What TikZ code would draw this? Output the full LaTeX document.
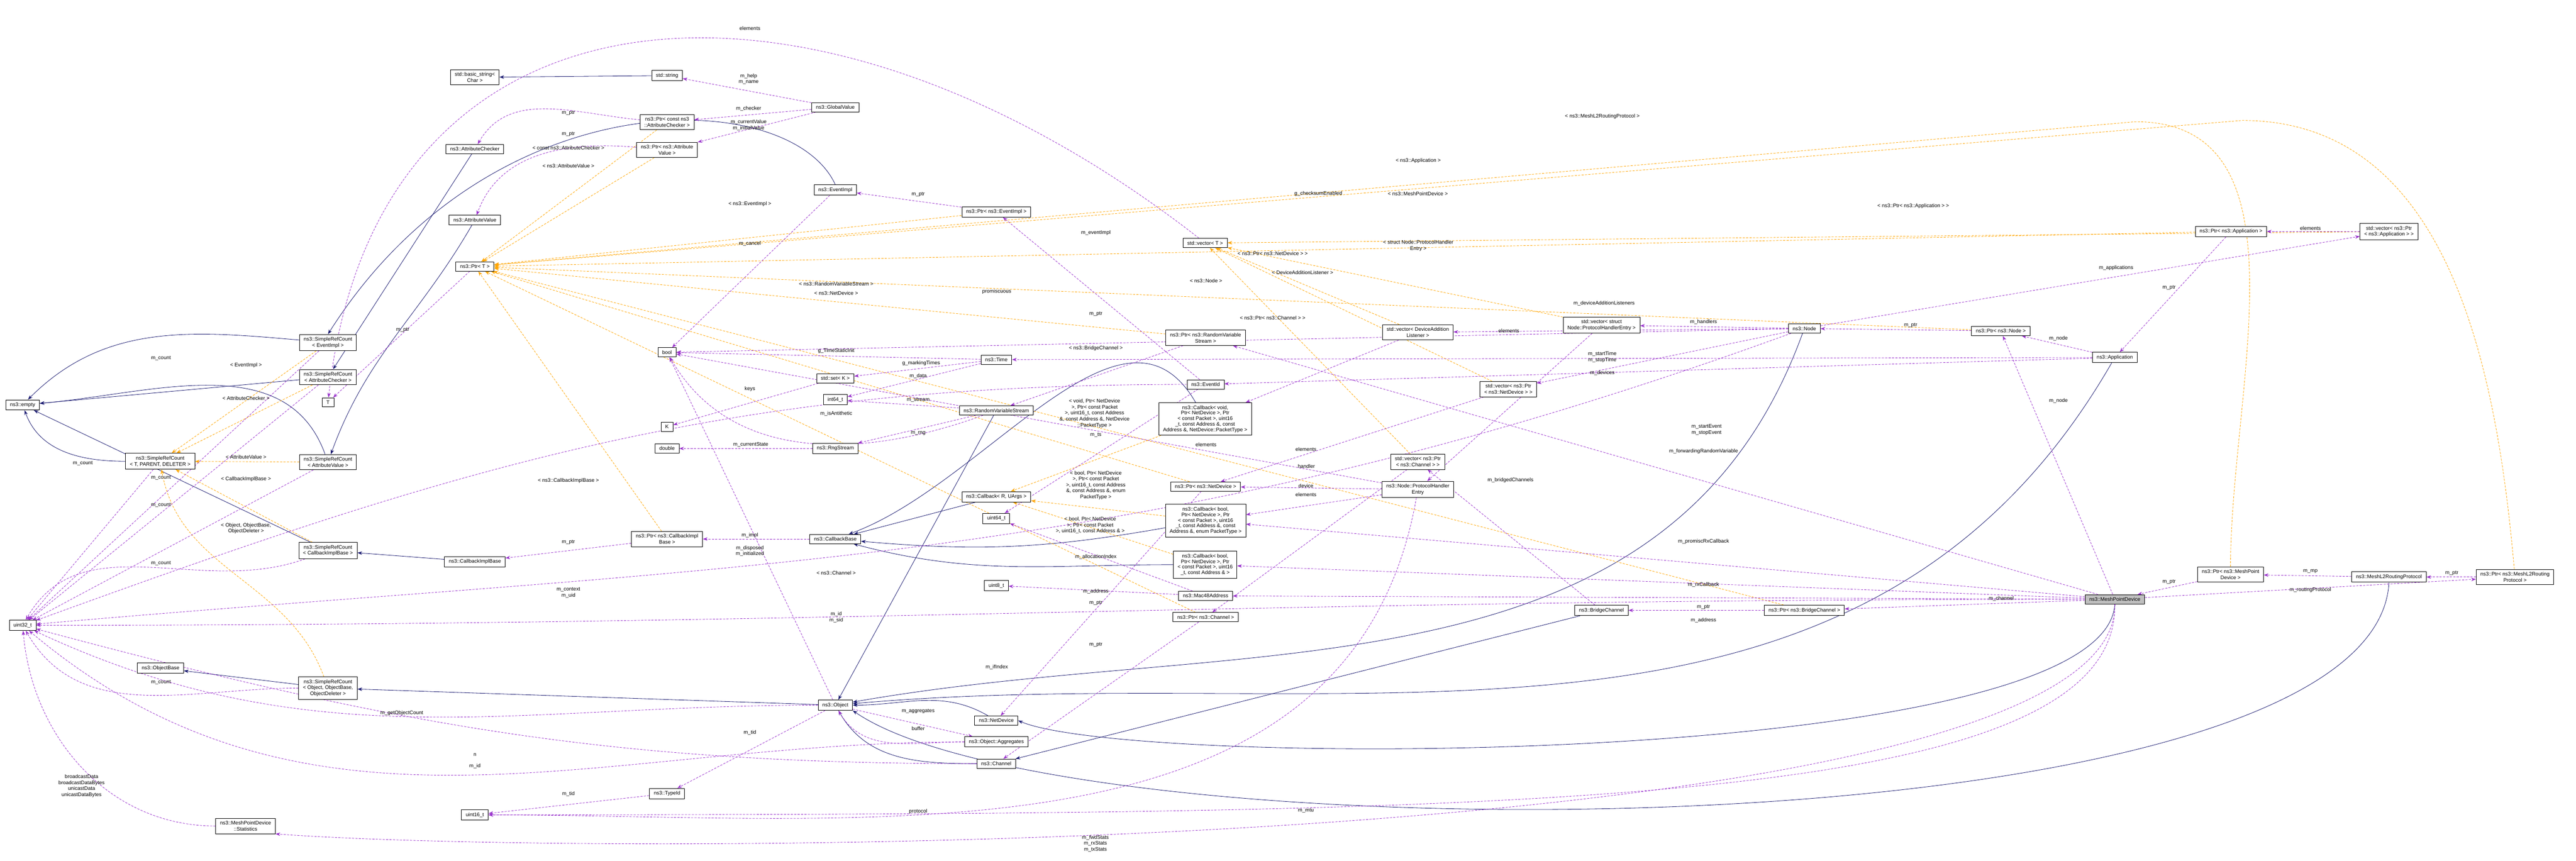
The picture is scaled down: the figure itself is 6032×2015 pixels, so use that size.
\documentclass[tikz,border=0pt]{standalone}
\usepackage{fontspec}
\setmainfont{Liberation Sans}
\usetikzlibrary{arrows.meta, positioning, backgrounds}
\definecolor{inhblue}{RGB}{25,25,112}
\definecolor{usepurple}{RGB}{153,50,204}
\definecolor{tplorange}{RGB}{255,165,0}
\definecolor{selgray}{RGB}{191,191,191}
\tikzstyle{box} = [rectangle, draw = black, fill = white, line width = 0.2pt,
  font = \fontsize{2.4}{2.8}\selectfont, align = center,
  inner xsep = 2pt, inner ysep = 1.3pt]
\tikzstyle{sel} = [box, fill = selgray]
\tikzstyle{lbl} = [font = \fontsize{2.4}{2.8}\selectfont, align = center, inner sep = 0.2pt]
\tikzstyle{inh} = [draw = inhblue, line width = 0.2pt,
  -{Stealth[length = 2.2pt, width = 1.6pt]}]
\tikzstyle{use} = [draw = usepurple, line width = 0.2pt, dash pattern = on 1pt off 0.6pt,
  -{Stealth[length = 2.2pt, width = 1.6pt]}]
\tikzstyle{tpl} = [draw = tplorange, line width = 0.2pt, dash pattern = on 1pt off 0.6pt,
  -{Stealth[length = 2.2pt, width = 1.6pt]}]

\begin{document}
\begin{tikzpicture}[x = 0.2pt, y = -0.2pt]
  \useasboundingbox (0, 0) rectangle (6032, 2015);
  % column 1
  \node [box] (empty) at (53, 948) {ns3::empty};
  \node [box] (uint32) at (53, 1464) {uint32\_t};
  % column 2
  \node [box] (srcTPD) at (375, 1080) {ns3::SimpleRefCount\\< T, PARENT, DELETER >};
  \node [box] (objBase) at (376, 1564) {ns3::ObjectBase};
  \node [box] (stats) at (575, 1934) {ns3::MeshPointDevice\\::Statistics};
  % column 3
  \node [box] (srcEvent) at (768, 802) {ns3::SimpleRefCount\\< EventImpl >};
  \node [box] (srcChecker) at (768, 883) {ns3::SimpleRefCount\\< AttributeChecker >};
  \node [box] (tT) at (768, 942) {T};
  \node [box] (srcValue) at (768, 1082) {ns3::SimpleRefCount\\< AttributeValue >};
  \node [box] (srcCbImpl) at (768, 1289) {ns3::SimpleRefCount\\< CallbackImplBase >};
  \node [box] (srcObject) at (768, 1611) {ns3::SimpleRefCount\\< Object, ObjectBase,\\ObjectDeleter >};
  % column 4
  \node [box] (basicStr) at (1112, 181) {std::basic\_string<\\Char >};
  \node [box] (attrChecker) at (1112, 349) {ns3::AttributeChecker};
  \node [box] (attrValue) at (1112, 515) {ns3::AttributeValue};
  \node [box] (ptrT) at (1112, 624) {ns3::Ptr< T >};
  \node [box] (cbImpl) at (1112, 1315) {ns3::CallbackImplBase};
  \node [box] (uint16) at (1112, 1908) {uint16\_t};
  % column 5
  \node [box] (stdStr) at (1562, 177) {std::string};
  \node [box] (ptrChecker) at (1562, 286) {ns3::Ptr< const ns3\\::AttributeChecker >};
  \node [box] (ptrValue) at (1562, 351) {ns3::Ptr< ns3::Attribute\\Value >};
  \node [box] (bool) at (1562, 825) {bool};
  \node [box] (kK) at (1562, 999) {K};
  \node [box] (double) at (1562, 1050) {double};
  \node [box] (ptrCbImpl) at (1562, 1262) {ns3::Ptr< ns3::CallbackImpl\\Base >};
  \node [box] (typeId) at (1562, 1858) {ns3::TypeId};
  % column 6
  \node [box] (globalValue) at (1956, 251) {ns3::GlobalValue};
  \node [box] (eventImpl) at (1956, 445) {ns3::EventImpl};
  \node [box] (stdSet) at (1956, 886) {std::set< K >};
  \node [box] (int64) at (1956, 936) {int64\_t};
  \node [box] (rngStream) at (1956, 1050) {ns3::RngStream};
  \node [box] (cbBase) at (1956, 1262) {ns3::CallbackBase};
  \node [box] (object) at (1956, 1651) {ns3::Object};
  % column 7
  \node [box] (ptrEvent) at (2333, 496) {ns3::Ptr< ns3::EventImpl >};
  \node [box] (time) at (2333, 842) {ns3::Time};
  \node [box] (rvs) at (2333, 961) {ns3::RandomVariableStream};
  \node [box] (cbR) at (2333, 1163) {ns3::Callback< R, UArgs >};
  \node [box] (uint64) at (2333, 1214) {uint64\_t};
  \node [box] (uint8) at (2333, 1371) {uint8\_t};
  \node [box] (netDevice) at (2333, 1687) {ns3::NetDevice};
  \node [box] (aggregates) at (2333, 1737) {ns3::Object::Aggregates};
  \node [box] (channel) at (2333, 1788) {ns3::Channel};
  % column 8
  \node [box] (vecT) at (2822, 569) {std::vector< T >};
  \node [box] (ptrRvs) at (2823, 791) {ns3::Ptr< ns3::RandomVariable\\Stream >};
  \node [box] (eventId) at (2823, 900) {ns3::EventId};
  \node [box, font = \fontsize{2.4}{2.6}\selectfont] (cbVoid) at (2822, 981) {ns3::Callback< void,\\Ptr< NetDevice >, Ptr\\< const Packet >, uint16\\\_t, const Address \&, const\\Address \&, NetDevice::PacketType >};
  \node [box] (ptrNetDev) at (2823, 1139) {ns3::Ptr< ns3::NetDevice >};
  \node [box, font = \fontsize{2.4}{2.6}\selectfont] (cbPromisc) at (2823, 1219) {ns3::Callback< bool,\\Ptr< NetDevice >, Ptr\\< const Packet >, uint16\\\_t, const Address \&, const\\Address \&, enum PacketType >};
  \node [box, font = \fontsize{2.4}{2.6}\selectfont] (cbRx) at (2822, 1322) {ns3::Callback< bool,\\Ptr< NetDevice >, Ptr\\< const Packet >, uint16\\\_t, const Address \& >};
  \node [box] (mac48) at (2823, 1395) {ns3::Mac48Address};
  \node [box] (ptrChannel) at (2823, 1445) {ns3::Ptr< ns3::Channel >};
  % column 9
  \node [box] (vecListener) at (3320, 778) {std::vector< DeviceAddition\\Listener >};
  \node [box] (vecChannel) at (3320, 1081) {std::vector< ns3::Ptr\\< ns3::Channel > >};
  \node [box] (handlerEntry) at (3320, 1146) {ns3::Node::ProtocolHandler\\Entry};
  \node [box] (vecNetDev) at (3532, 911) {std::vector< ns3::Ptr\\< ns3::NetDevice > >};
  % column 10
  \node [box] (vecHandler) at (3750, 761) {std::vector< struct\\Node::ProtocolHandlerEntry >};
  \node [box] (bridgeCh) at (3750, 1429) {ns3::BridgeChannel};
  \node [box] (node) at (4225, 769) {ns3::Node};
  \node [box] (ptrBridge) at (4225, 1429) {ns3::Ptr< ns3::BridgeChannel >};
  % column 11
  \node [box] (ptrNode) at (4685, 775) {ns3::Ptr< ns3::Node >};
  \node [box] (application) at (4952, 837) {ns3::Application};
  \node [sel] (meshDev) at (4952, 1403) {ns3::MeshPointDevice};
  \node [box] (ptrApp) at (5224, 542) {ns3::Ptr< ns3::Application >};
  \node [box] (ptrMeshDev) at (5223, 1345) {ns3::Ptr< ns3::MeshPoint\\Device >};
  \node [box] (vecApp) at (5594, 542) {std::vector< ns3::Ptr\\< ns3::Application > >};
  \node [box] (routing) at (5594, 1351) {ns3::MeshL2RoutingProtocol};
  \node [box] (ptrRouting) at (5889, 1351) {ns3::Ptr< ns3::MeshL2Routing\\Protocol >};

  \begin{pgfonlayer}{background}
    % inheritance
    \draw [inh] (srcEvent) to [out = 175, in = 45] (empty);
    \draw [inh] (srcChecker) -- (empty);
    \draw [inh] (srcTPD) to [out = 180, in = -70] (empty);
    \draw [inh] (srcValue) to [out = 110, in = 5] (empty);
    \draw [inh] (srcCbImpl) -- (empty);
    \draw [inh] (srcObject) -- (objBase);
    \draw [inh] (eventImpl.north) .. controls (1850, 200) and (1150, 180) .. (srcEvent.north);
    \draw [inh] (attrChecker) -- (srcChecker);
    \draw [inh] (attrValue) to [out = -120, in = 70] (srcValue);
    \draw [inh] (cbImpl) -- (srcCbImpl);
    \draw [inh] (object) -- (srcObject);
    \draw [inh] (stdStr) -- (basicStr);
    \draw [inh] (cbR) -- (cbBase);
    \draw [inh] (cbVoid) to [out = 120, in = 20] (cbBase);
    \draw [inh] (cbPromisc) to [out = 190, in = -5] (cbBase);
    \draw [inh] (cbRx) to [out = 180, in = -15] (cbBase);
    \draw [inh] (rvs) -- (object);
    \draw [inh] (netDevice) to [out = 150, in = 0] (object);
    \draw [inh] (channel) to [out = 180, in = -60] (object);
    \draw [inh] (node) to [out = -110, in = 10] (object);
    \draw [inh] (application) to [out = -120, in = 5] (object);
    \draw [inh] (bridgeCh) -- (channel);
    \draw [inh] (meshDev.south) .. controls (4930, 1800) and (2650, 1800) .. (netDevice.east);
    \draw [inh] (routing.south) .. controls (5560, 2010) and (2500, 2010) .. (object.south east);
    % templates
    \draw [tpl] (srcEvent) -- (srcTPD);
    \draw [tpl] (srcChecker) -- (srcTPD);
    \draw [tpl] (srcValue) -- (srcTPD);
    \draw [tpl] (srcCbImpl) -- (srcTPD);
    \draw [tpl] (srcObject) to [out = 110, in = -80] (srcTPD);
    \draw [tpl] (ptrChecker) -- (ptrT);
    \draw [tpl] (ptrValue) -- (ptrT);
    \draw [tpl] (ptrEvent) -- (ptrT);
    \draw [tpl] (ptrRvs) -- (ptrT);
    \draw [tpl] (ptrNetDev) -- (ptrT);
    \draw [tpl] (ptrCbImpl) -- (ptrT);
    \draw [tpl] (ptrChannel) -- (ptrT);
    \draw [tpl] (ptrBridge) -- (ptrT);
    \draw [tpl] (ptrNode) -- (ptrT);
    \draw [tpl] (ptrApp) -- (ptrT);
    \draw [tpl] (ptrMeshDev) to [out = 90, in = 0] (5000, 285) -- (ptrT);
    \draw [tpl] (ptrRouting) to [out = 95, in = 0] (5250, 282) -- (ptrT);
    \draw [tpl] (vecApp) -- (vecT);
    \draw [tpl] (vecNetDev) -- (vecT);
    \draw [tpl] (vecChannel) -- (vecT);
    \draw [tpl] (vecListener) -- (vecT);
    \draw [tpl] (vecHandler) -- (vecT);
    \draw [tpl] (cbVoid) -- (cbR);
    \draw [tpl] (cbPromisc) -- (cbR);
    \draw [tpl] (cbRx) -- (cbR);
    % members
    \draw [use] (vecT) .. controls (1900, -150) and (880, -80) .. (tT);
    \draw [use] (globalValue) -- (stdStr);
    \draw [use] (globalValue) -- (ptrChecker);
    \draw [use] (globalValue) -- (ptrValue);
    \draw [use] (ptrChecker) to [out = 175, in = 60] (attrChecker);
    \draw [use] (ptrValue) to [out = 175, in = 70] (attrValue);
    \draw [use] (ptrT) -- (tT);
    \draw [use] (srcEvent) -- (uint32);
    \draw [use] (srcChecker) -- (uint32);
    \draw [use] (srcTPD) -- (uint32);
    \draw [use] (srcValue) -- (uint32);
    \draw [use] (srcCbImpl) to [out = 200, in = 60] (uint32);
    \draw [use] (srcObject) to [out = 180, in = -60] (uint32);
    \draw [use] (eventImpl) -- (bool);
    \draw [use] (ptrEvent) -- (eventImpl);
    \draw [use] (eventId) -- (ptrEvent);
    \draw [use] (eventId) to [out = 180, in = 20] (uint32);
    \draw [use] (eventId) -- (uint64);
    \draw [use] (time) -- (bool);
    \draw [use] (time) -- (stdSet);
    \draw [use] (time) -- (int64);
    \draw [use] (stdSet) -- (kK);
    \draw [use] (rvs) -- (int64);
    \draw [use] (rvs) to [out = 200, in = -60] (bool);
    \draw [use] (rvs) -- (rngStream);
    \draw [use] (rngStream) -- (double);
    \draw [use] (ptrRvs) -- (rvs);
    \draw [use] (cbBase) -- (ptrCbImpl);
    \draw [use] (ptrCbImpl) -- (cbImpl);
    \draw [use] (object) -- (bool);
    \draw [use] (object) -- (typeId);
    \draw [use] (object) -- (aggregates);
    \draw [use] (aggregates) to [out = 180, in = -60] (object);
    \draw [use] (aggregates) to [out = 180, in = -40] (uint32);
    \draw [use] (object) to [out = 180, in = -25] (uint32);
    \draw [use] (typeId) -- (uint16);
    \draw [use] (mac48) -- (uint8);
    \draw [use] (mac48) -- (uint64);
    \draw [use] (ptrNetDev) -- (netDevice);
    \draw [use] (ptrChannel) -- (channel);
    \draw [use] (handlerEntry) -- (bool);
    \draw [use] (handlerEntry) -- (cbPromisc);
    \draw [use] (handlerEntry) -- (ptrNetDev);
    \draw [use] (handlerEntry) to [out = -100, in = 0] (uint16);
    \draw [use] (vecHandler) -- (handlerEntry);
    \draw [use] (vecNetDev) -- (ptrNetDev);
    \draw [use] (vecChannel) -- (ptrChannel);
    \draw [use] (vecListener) -- (cbVoid);
    \draw [use] (node) -- (vecListener);
    \draw [use] (node) -- (vecHandler);
    \draw [use] (node) -- (vecNetDev);
    \draw [use] (node) to [out = 200, in = 5] (uint32);
    \draw [use] (node) -- (bool);
    \draw [use] (node) -- (vecApp);
    \draw [use] (ptrNode) -- (node);
    \draw [use] (application) -- (ptrNode);
    \draw [use] (application) -- (time);
    \draw [use] (application) -- (eventId);
    \draw [use] (ptrApp) -- (application);
    \draw [use] (vecApp) -- (ptrApp);
    \draw [use] (bridgeCh) -- (vecChannel);
    \draw [use] (ptrBridge) -- (bridgeCh);
    \draw [use] (channel) to [out = 180, in = -15] (uint32);
    \draw [use] (meshDev) -- (ptrNode);
    \draw [use] (meshDev) -- (ptrBridge);
    \draw [use] (meshDev) -- (ptrRvs);
    \draw [use] (meshDev) -- (cbPromisc);
    \draw [use] (meshDev) -- (cbRx);
    \draw [use] (meshDev) -- (mac48);
    \draw [use] (meshDev) to [out = 180, in = 0] (uint32);
    \draw [use] (meshDev.south) .. controls (4960, 1905) and (3500, 1905) .. (uint16.east);
    \draw [use] (meshDev.south) .. controls (4965, 2008) and (1400, 2008) .. (stats.south east);
    \draw [use] (stats) to [out = 180, in = -85] (uint32);
    \draw [use] (meshDev) -- (ptrRouting);
    \draw [use] (ptrMeshDev) -- (meshDev);
    \draw [use] (routing) -- (ptrMeshDev);
    \draw [use] (ptrRouting) -- (routing);
  \end{pgfonlayer}

  % member labels
  \node [lbl] (l-elemT) at (1756, 66) {elements};
  \node [lbl] (l-help) at (1753, 185) {m\_help\\m\_name};
  \node [lbl] (l-checker) at (1753, 254) {m\_checker};
  \node [lbl] (l-value) at (1753, 293) {m\_currentValue\\m\_initialValue};
  \node [lbl] (l-ptrC) at (1331, 265) {m\_ptr};
  \node [lbl] (l-ptrV) at (1331, 314) {m\_ptr};
  \node [lbl] (l-ptrT) at (943, 773) {m\_ptr};
  \node [lbl] (l-cnt1) at (377, 839) {m\_count};
  \node [lbl] (l-cnt2) at (194, 1085) {m\_count};
  \node [lbl] (l-cnt3) at (377, 1119) {m\_count};
  \node [lbl] (l-cnt4) at (377, 1183) {m\_count};
  \node [lbl] (l-cnt5) at (377, 1319) {m\_count};
  \node [lbl] (l-cnt6) at (377, 1597) {m\_count};
  \node [lbl] (l-cancel) at (1756, 570) {m\_cancel};
  \node [lbl] (l-ptrE) at (2150, 455) {m\_ptr};
  \node [lbl] (l-eventImpl) at (2566, 545) {m\_eventImpl};
  \node [lbl] (l-context) at (1331, 1388) {m\_context\\m\_uid};
  \node [lbl] (l-ts) at (2566, 1019) {m\_ts};
  \node [lbl] (l-tsi) at (1958, 821) {g\_TimeStaticInit};
  \node [lbl] (l-marking) at (2157, 851) {g\_markingTimes};
  \node [lbl] (l-data) at (2150, 881) {m\_data};
  \node [lbl] (l-keys) at (1756, 911) {keys};
  \node [lbl] (l-stream) at (2150, 937) {m\_stream};
  \node [lbl] (l-anti) at (1958, 969) {m\_isAntithetic};
  \node [lbl] (l-rng) at (2150, 1014) {m\_rng};
  \node [lbl] (l-state) at (1758, 1041) {m\_currentState};
  \node [lbl] (l-ptrR) at (2566, 735) {m\_ptr};
  \node [lbl] (l-impl) at (1756, 1253) {m\_impl};
  \node [lbl] (l-ptrCb) at (1331, 1269) {m\_ptr};
  \node [lbl] (l-disposed) at (1756, 1290) {m\_disposed\\m\_initialized};
  \node [lbl] (l-tid) at (1756, 1715) {m\_tid};
  \node [lbl] (l-aggr) at (2150, 1665) {m\_aggregates};
  \node [lbl] (l-buffer) at (2150, 1706) {buffer};
  \node [lbl] (l-n) at (1112, 1767) {n};
  \node [lbl] (l-getCount) at (941, 1670) {m\_getObjectCount};
  \node [lbl] (l-tid2) at (1331, 1859) {m\_tid};
  \node [lbl] (l-addr8) at (2566, 1385) {m\_address};
  \node [lbl] (l-alloc) at (2566, 1304) {m\_allocationIndex};
  \node [lbl] (l-ptrN) at (2566, 1412) {m\_ptr};
  \node [lbl] (l-ptrCh) at (2566, 1510) {m\_ptr};
  \node [lbl] (l-promisc) at (2334, 683) {promiscuous};
  \node [lbl] (l-handler) at (3059, 1092) {handler};
  \node [lbl] (l-device) at (3058, 1137) {device};
  \node [lbl] (l-protocol) at (2150, 1900) {protocol};
  \node [lbl] (l-elemH) at (3533, 774) {elements};
  \node [lbl] (l-elemN) at (3058, 1158) {elements};
  \node [lbl] (l-elemC) at (3058, 1052) {elements};
  \node [lbl] (l-elemL) at (2824, 1041) {elements};
  \node [lbl] (l-listeners) at (3756, 710) {m\_deviceAdditionListeners};
  \node [lbl] (l-handlers) at (3989, 754) {m\_handlers};
  \node [lbl] (l-devices) at (3752, 873) {m\_devices};
  \node [lbl] (l-id) at (1958, 1445) {m\_id\\m\_sid};
  \node [lbl] (l-chk) at (3087, 454) {g\_checksumEnabled};
  \node [lbl] (l-ptrNode) at (4474, 762) {m\_ptr};
  \node [lbl] (l-node) at (4820, 793) {m\_node};
  \node [lbl] (l-startT) at (3752, 836) {m\_startTime\\m\_stopTime};
  \node [lbl] (l-startE) at (3996, 1006) {m\_startEvent\\m\_stopEvent};
  \node [lbl] (l-apps) at (4955, 627) {m\_applications};
  \node [lbl] (l-ptrApp) at (5079, 673) {m\_ptr};
  \node [lbl] (l-elemA) at (5410, 534) {elements};
  \node [lbl] (l-bridged) at (3537, 1124) {m\_bridgedChannels};
  \node [lbl] (l-ptrB) at (3989, 1421) {m\_ptr};
  \node [lbl] (l-id2) at (1112, 1794) {m\_id};
  \node [lbl] (l-node2) at (4820, 939) {m\_node};
  \node [lbl] (l-channel) at (4686, 1402) {m\_channel};
  \node [lbl] (l-fwd) at (3989, 1057) {m\_forwardingRandomVariable};
  \node [lbl] (l-promRx) at (3989, 1268) {m\_promiscRxCallback};
  \node [lbl] (l-rx) at (3989, 1369) {m\_rxCallback};
  \node [lbl] (l-addr) at (3989, 1452) {m\_address};
  \node [lbl] (l-ifIndex) at (2334, 1562) {m\_ifIndex};
  \node [lbl] (l-mtu) at (3058, 1898) {m\_mtu};
  \node [lbl] (l-stats) at (2565, 1975) {m\_fwdStats\\m\_rxStats\\m\_txStats};
  \node [lbl] (l-bcast) at (191, 1840) {broadcastData\\broadcastDataBytes\\unicastData\\unicastDataBytes};
  \node [lbl] (l-routing) at (5410, 1381) {m\_routingProtocol};
  \node [lbl] (l-ptrMD) at (5079, 1362) {m\_ptr};
  \node [lbl] (l-mp) at (5410, 1338) {m\_mp};
  \node [lbl] (l-ptrRt) at (5741, 1342) {m\_ptr};
  % template labels
  \node [lbl] (t-event) at (576, 855) {< EventImpl >};
  \node [lbl] (t-checker) at (576, 933) {< AttributeChecker >};
  \node [lbl] (t-value) at (576, 1070) {< AttributeValue >};
  \node [lbl] (t-cbImpl) at (576, 1122) {< CallbackImplBase >};
  \node [lbl] (t-object) at (576, 1237) {< Object, ObjectBase,\\ObjectDeleter >};
  \node [lbl] (t-ptrC) at (1331, 346) {< const ns3::AttributeChecker >};
  \node [lbl] (t-ptrV) at (1331, 388) {< ns3::AttributeValue >};
  \node [lbl] (t-ptrE) at (1756, 478) {< ns3::EventImpl >};
  \node [lbl] (t-rvs) at (1958, 665) {< ns3::RandomVariableStream >};
  \node [lbl] (t-nd) at (1958, 686) {< ns3::NetDevice >};
  \node [lbl] (t-cbImplB) at (1331, 1126) {< ns3::CallbackImplBase >};
  \node [lbl] (t-ch) at (1958, 1341) {< ns3::Channel >};
  \node [lbl] (t-bridge) at (2566, 815) {< ns3::BridgeChannel >};
  \node [lbl] (t-node) at (2824, 657) {< ns3::Node >};
  \node [lbl] (t-app) at (3321, 376) {< ns3::Application >};
  \node [lbl] (t-mesh) at (3320, 453) {< ns3::MeshPointDevice >};
  \node [lbl] (t-routing) at (3752, 273) {< ns3::MeshL2RoutingProtocol >};
  \node [lbl] (t-vecApp) at (4480, 482) {< ns3::Ptr< ns3::Application > >};
  \node [lbl] (t-vecNd) at (2980, 593) {< ns3::Ptr< ns3::NetDevice > >};
  \node [lbl] (t-vecCh) at (2980, 744) {< ns3::Ptr< ns3::Channel > >};
  \node [lbl] (t-vecL) at (3050, 638) {< DeviceAdditionListener >};
  \node [lbl] (t-vecH) at (3321, 575) {< struct Node::ProtocolHandler\\Entry >};
  \node [lbl] (t-cbVoid) at (2563, 968) {< void, Ptr< NetDevice\\>, Ptr< const Packet\\>, uint16\_t, const Address\\\&, const Address \&, NetDevice\\::PacketType >};
  \node [lbl] (t-cbProm) at (2566, 1136) {< bool, Ptr< NetDevice\\>, Ptr< const Packet\\>, uint16\_t, const Address\\\&, const Address \&, enum\\PacketType >};
  \node [lbl] (t-cbRx) at (2553, 1230) {< bool, Ptr< NetDevice\\>, Ptr< const Packet\\>, uint16\_t, const Address \& >};
\end{tikzpicture}
\end{document}
